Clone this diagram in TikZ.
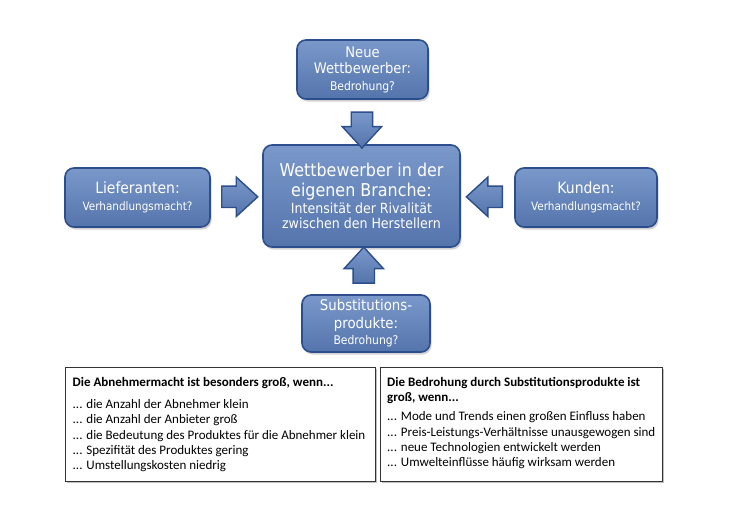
\documentclass[tikz,border=0pt]{standalone}
\usepackage{fontspec}
\setmainfont{Carlito}
\newfontfamily\boxfont[FakeStretch=0.9]{DejaVu Sans}
\usetikzlibrary{shadows,shapes.arrows,calc}
\definecolor{boxtop}{RGB}{122,152,202}
\definecolor{boxbot}{RGB}{84,116,172}
\definecolor{boxedge}{RGB}{44,78,140}
\tikzset{
 bluebox/.style={draw=boxedge, line width=1.6pt, rounded corners=9pt, top color=boxtop, bottom color=boxbot,
   drop shadow={shadow xshift=1.5pt, shadow yshift=-2.5pt, opacity=0.35}, text=white, align=center,
   inner sep=0pt},
 bigfont/.style={font=\boxfont\fontsize{#1}{#1*1.13}\selectfont},
 blockarrow/.style={single arrow, draw=boxedge, line width=1.4pt, top color=boxtop, bottom color=boxbot,
   inner xsep=0pt, inner ysep=10pt, single arrow head extend=9pt, single arrow tip angle=85,
   minimum height=36pt, minimum width=0pt},
 infobox/.style={draw=black!80, line width=0.8pt, fill=white, anchor=north west, inner sep=0pt,
   drop shadow={shadow xshift=1.5pt, shadow yshift=-1.5pt, opacity=0.5}},
 infotext/.style={anchor=north west, inner sep=0pt, align=left, font=\fontsize{13}{15.3}\selectfont},
}
\newcommand{\smtext}[2]{{\fontsize{#1}{#1}\selectfont #2}}
\begin{document}
\begin{tikzpicture}[x=1pt,y=-1pt]
\fill[white] (0,0) rectangle (730,530);
\useasboundingbox (0,0) rectangle (730,530);

\node[bluebox, font=\boxfont\fontsize{14.6}{16.5}\selectfont, minimum width=131pt, minimum height=59pt] (neu) at (362.5,69.5)
  {Neue\\Wettbewerber:\\[0pt]\smtext{12}{Bedrohung?}};
\node[bluebox, font=\boxfont\fontsize{17.7}{20}\selectfont, minimum width=197pt, minimum height=102pt] (mitte) at (361.5,196)
  {Wettbewerber in der\\eigenen Branche:\\[-3pt]\smtext{14}{Intensität der Rivalität}\\[-4.5pt]\smtext{14}{zwischen den Herstellern}};
\node[bluebox, font=\boxfont\fontsize{15.5}{18}\selectfont, minimum width=145pt, minimum height=59pt] (lief) at (137.5,197.5)
  {Lieferanten:\\[-1pt]\smtext{11.6}{Verhandlungsmacht?}};
\node[bluebox, font=\boxfont\fontsize{15.5}{18}\selectfont, minimum width=142pt, minimum height=59pt] (kund) at (586,197.5)
  {Kunden:\\[-1pt]\smtext{11.6}{Verhandlungsmacht?}};
\node[bluebox, font=\boxfont\fontsize{14.8}{17.5}\selectfont, minimum width=128pt, minimum height=57pt] (subst) at (366,323.5)
  {Substitutions-\\produkte:\\[-1pt]\smtext{12}{Bedrohung?}};

\node[blockarrow, rotate=-90] (a1) at ($(neu.south)!0.55!(mitte.north)$) {};
\node[blockarrow] (a2) at ($(lief.east)!0.45!(mitte.west)$) {};
\node[blockarrow, rotate=180] (a3) at ($(kund.west)!0.45!(mitte.east)$) {};
\node[blockarrow, rotate=90] (a4) at ($(subst.north)!0.5!(mitte.south)$) {};

\node[infobox, minimum width=310pt, minimum height=114pt] (lbox) at (65,367) {};
\node[infotext] (ltext) at ($(lbox.north west)+(7.5,10)$)
  {\textbf{Die Abnehmermacht ist besonders groß, wenn...}\\[7pt]
   ... die Anzahl der Abnehmer klein\\
   ... die Anzahl der Anbieter groß\\
   ... die Bedeutung des Produktes für die Abnehmer klein\\
   ... Spezifität des Produktes gering\\
   ... Umstellungskosten niedrig};

\node[infobox, minimum width=282pt, minimum height=114pt] (rbox) at (380,367) {};
\node[infotext] (rtext) at ($(rbox.north west)+(7,10)$)
  {\textbf{Die Bedrohung durch Substitutionsprodukte ist}\\
   \textbf{groß, wenn...}\\[4pt]
   ... Mode und Trends einen großen Einfluss haben\\
   ... Preis-Leistungs-Verhältnisse unausgewogen sind\\
   ... neue Technologien entwickelt werden\\
   ... Umwelteinflüsse häufig wirksam werden};
\end{tikzpicture}
\end{document}
